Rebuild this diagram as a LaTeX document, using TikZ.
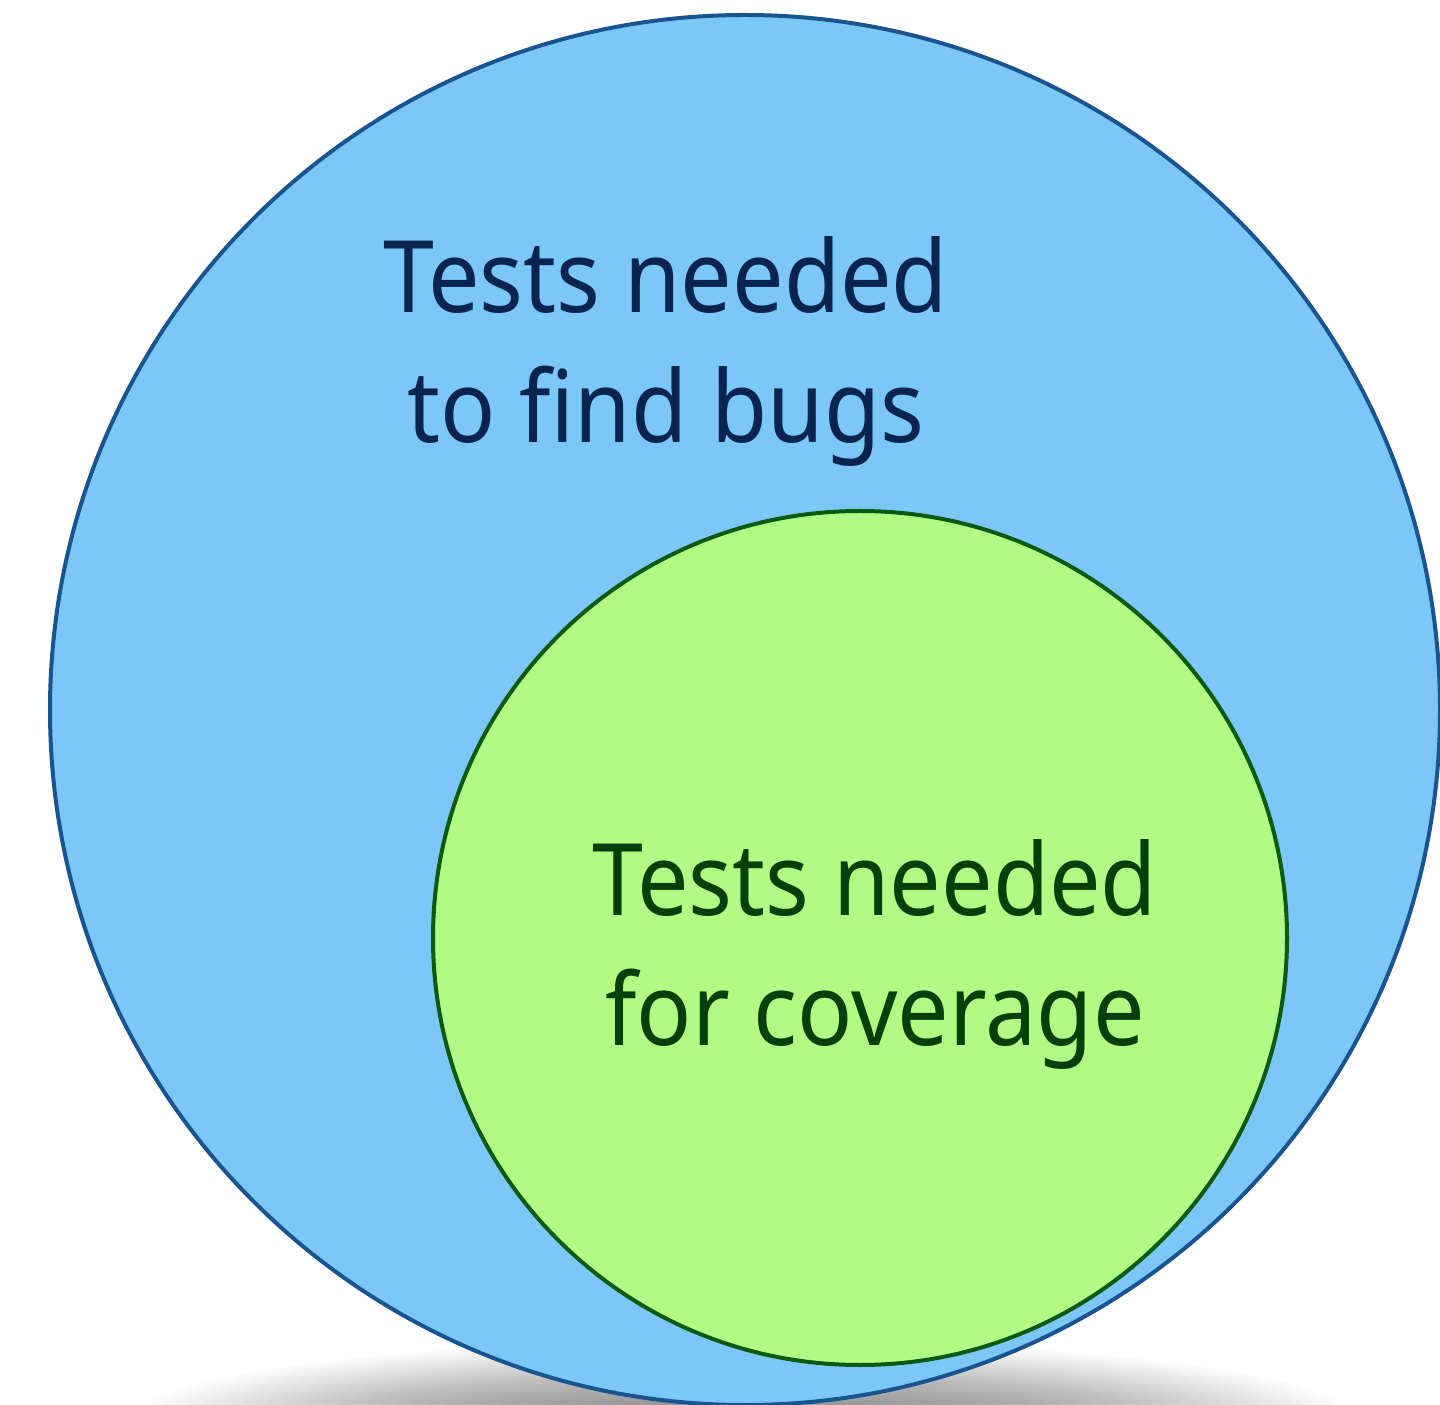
\documentclass[tikz,border=0pt]{standalone}
\usepackage{fontspec}
\setmainfont{Noto Sans}[FakeStretch=0.915]
\newfontfamily\lblfont{Noto Sans}[FakeStretch=0.915]
\definecolor{bugfill}{HTML}{7BC8F8}
\definecolor{bugline}{HTML}{1A5490}
\definecolor{bugtext}{HTML}{0A2450}
\definecolor{covfill}{HTML}{B1FA84}
\definecolor{covline}{HTML}{0C5A12}
\definecolor{covtext}{HTML}{063F09}
\tikzset{
  setlabel/.style={align=center, font=\lblfont\fontsize{50pt}{65pt}\selectfont, inner sep=0pt},
  bigset/.style={fill=bugfill, draw=bugline, line width=2pt},
  smallset/.style={fill=covfill, draw=covline, line width=2pt},
}
\begin{document}
\begin{tikzpicture}[x=0.5pt, y=0.5pt]
  \useasboundingbox (0,0) rectangle (1440,1404);
  \fill[white] (0,0) rectangle (1440,1404);
  \clip (0,0) rectangle (1440,1404);
  % soft shadow under the outer set, built from stacked faint ellipses
  \foreach \i in {0,...,29}
    \fill[black, opacity=0.017] (745,-16) ellipse [x radius={610-\i*13}, y radius={80-\i*2.2}];
  % outer set
  \draw[bigset] (745,694) circle [radius=695];
  % inner set
  \draw[smallset] (860,466) circle [radius=427];
  % labels
  \node[setlabel, text=bugtext] (bugs) at (666,1052) {Tests needed\\to find bugs};
  \node[setlabel, text=covtext] (cover) at (875,450) {Tests needed\\for coverage};
\end{tikzpicture}
\end{document}
